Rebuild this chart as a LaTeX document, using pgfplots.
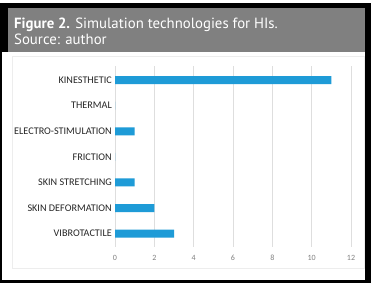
\documentclass[border=0pt]{standalone}
\usepackage{pgfplots}
\pgfplotsset{compat=1.18}
\usepackage{fontspec}
\setmainfont{PT Sans}
\newfontfamily\carlito{Carlito}
\definecolor{hdr}{RGB}{128,128,128}
\definecolor{barblue}{RGB}{30,155,215}
\begin{document}
\begin{tikzpicture}[x=1pt,y=1pt]
\useasboundingbox (0,0) rectangle (372,283);
% frame (pixel y -> 283-y)
\fill[black] (0,0) rectangle (371,280);
\fill[black] (2,231) rectangle (365,280);
\fill[white] (2,3) rectangle (365,231);
\fill[hdr] (8,231) rectangle (365,275);
\node[anchor=base west, text=white, inner sep=0pt, font=\fontsize{14.8}{16}\selectfont] at (14,254) {\textbf{Figure 2.} Simulation technologies for HIs.};
\node[anchor=base west, text=white, inner sep=0pt, font=\fontsize{14.8}{16}\selectfont] at (14,238) {Source: author};
\draw[black!7, line width=1pt] (12.5,226) rectangle (364,14);
\begin{axis}[
  at={(115pt,36pt)}, anchor=south west,
  scale only axis, width=236pt, height=181pt,
  xbar, bar width=8pt,
  xmin=0, xmax=12, ymin=-0.52, ymax=6.55,
  xtick={0,2,4,6,8,10,12},
  ytick={0,1,2,3,4,5,6},
  yticklabels={VIBROTACTILE,SKIN DEFORMATION,SKIN STRETCHING,FRICTION,ELECTRO-STIMULATION,THERMAL,KINESTHETIC},
  axis line style={draw=none},
  major tick length=0pt,
  xmajorgrids, grid style={black!13, line width=0.8pt},
  /pgf/number format/assume math mode=true,
  yticklabel style={font=\carlito\fontsize{10.2}{11}\selectfont, text=black!85, inner sep=0pt, xshift=-3pt},
  xticklabel style={font=\carlito\fontsize{8}{9}\selectfont, text=black!50, inner sep=0pt, yshift=-8pt},
  clip=false,
]
\addplot[fill=barblue, draw=none] coordinates {(3,0) (2,1) (1,2) (0,3) (1,4) (0,5) (11,6)};
\end{axis}
\end{tikzpicture}
\end{document}
